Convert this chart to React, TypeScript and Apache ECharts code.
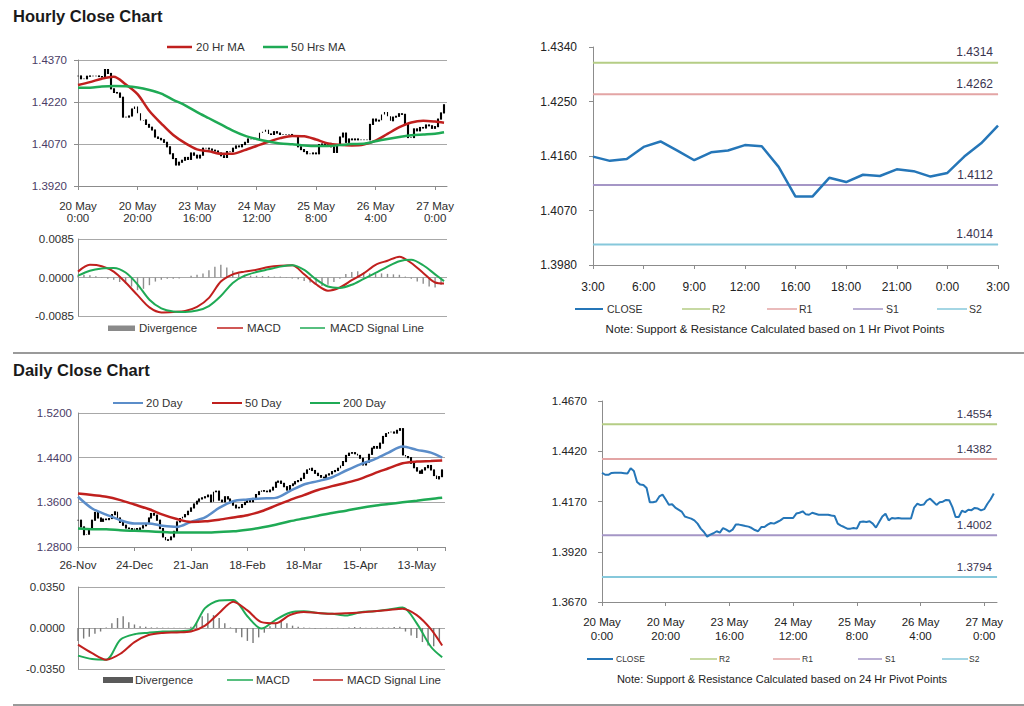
import React, { useEffect, useRef } from "react";
import * as echarts from "echarts";

// ---------- Hourly data (20 May 0:00 -> 27 May 3:00) ----------
const hourlyTicks = ["20 May\n0:00", "20 May\n20:00", "23 May\n16:00", "24 May\n12:00", "25 May\n8:00", "26 May\n4:00", "27 May\n0:00"];
const hourlyClose = [
  1.4313, 1.4303, 1.4303, 1.4312, 1.4313, 1.4313, 1.4313, 1.4311, 1.4309, 1.4336,
  1.4322, 1.4267, 1.4254, 1.4252, 1.4237, 1.4166, 1.4166, 1.4170, 1.4195, 1.4204,
  1.4180, 1.4154, 1.4156, 1.4140, 1.4130, 1.4120, 1.4095, 1.4090, 1.4085, 1.4076,
  1.4060, 1.4035, 1.4018, 1.3995, 1.4005, 1.4012, 1.4022, 1.4015, 1.4038, 1.4030,
  1.4020, 1.4030, 1.4055, 1.4055, 1.4052, 1.4048, 1.4045, 1.4038, 1.4028, 1.4022,
  1.4043, 1.4043, 1.4055, 1.4063, 1.4060, 1.4068, 1.4076, 1.4088, 1.4088, 1.4088,
  1.4088, 1.4110, 1.4114, 1.4121, 1.4106, 1.4104, 1.4114, 1.4109, 1.4104, 1.4104,
  1.4104, 1.4104, 1.4100, 1.4098, 1.4060, 1.4050, 1.4043, 1.4035, 1.4035, 1.4038,
  1.4035, 1.4068, 1.4070, 1.4068, 1.4072, 1.4060, 1.4040, 1.4068, 1.4095, 1.4109,
  1.4076, 1.4088, 1.4085, 1.4088, 1.4085, 1.4085, 1.4085, 1.4085, 1.4140,
  1.4159, 1.4152, 1.4155, 1.4175, 1.4184, 1.4169, 1.4153, 1.4166, 1.4169, 1.4178,
  1.4176, 1.4142, 1.4093, 1.4093, 1.4124, 1.4117, 1.4129, 1.4127, 1.4138, 1.4135,
  1.4126, 1.4132, 1.4159, 1.4181, 1.4210,
];
const hourlyIdx4 = [0, 4, 8, 12, 16, 20, 24, 28, 32, 36, 40, 44, 48, 52, 56, 60, 64, 68, 72, 76, 80, 84, 88, 92, 96, 100, 104, 108, 112, 116, 120, 123];
const ma20Hr = [1.4281, 1.4291, 1.4303, 1.4310, 1.4283, 1.4248, 1.4188, 1.4143, 1.4102, 1.4073, 1.4051, 1.4044, 1.4035, 1.4035, 1.4048, 1.4063, 1.4078, 1.4091, 1.4099, 1.4098, 1.4086, 1.4072, 1.4067, 1.4065, 1.4068, 1.4082, 1.4106, 1.4130, 1.4147, 1.4153, 1.4150, 1.4146];
const ma50Hr = [1.4271, 1.4271, 1.4275, 1.4277, 1.4276, 1.4272, 1.4263, 1.4250, 1.4228, 1.4208, 1.4184, 1.4162, 1.4140, 1.4118, 1.4100, 1.4088, 1.4079, 1.4072, 1.4069, 1.4065, 1.4063, 1.4063, 1.4066, 1.4070, 1.4071, 1.4080, 1.4088, 1.4095, 1.4101, 1.4104, 1.4107, 1.4112];
const macdHourly = [0.0013, 0.0028, 0.0025, 0.0013, -0.0011, -0.0039, -0.0066, -0.0077, -0.0076, -0.0074, -0.0065, -0.0045, -0.0009, 0.0007, 0.0013, 0.0017, 0.0023, 0.0026, 0.0027, 0.0007, -0.0015, -0.0029, -0.0022, -0.0006, 0.0009, 0.0028, 0.0037, 0.0046, 0.0032, 0.0010, -0.0011, -0.0013];
const signalHourly = [0.0004, 0.0015, 0.0020, 0.0021, 0.0011, -0.0015, -0.0049, -0.0068, -0.0075, -0.0076, -0.0073, -0.0063, -0.0041, -0.0012, 0.0004, 0.0012, 0.0018, 0.0024, 0.0027, 0.0017, -0.0004, -0.0020, -0.0023, -0.0016, -0.0003, 0.0010, 0.0024, 0.0036, 0.0039, 0.0027, 0.0007, -0.0008];
const divHourly = [
  0.0005, 0.0006, 0.0005, 0.0003, 0.0001, -0.0003, -0.0005, -0.0010, -0.0013, -0.0020,
  -0.0028, -0.0025, -0.0017, -0.0009, -0.0005, -0.0003, -0.0003, -0.0002, 0.0000, 0.0004,
  0.0006, 0.0009, 0.0016, 0.0024, 0.0028, 0.0022, 0.0015, 0.0009, 0.0006, 0.0004,
  0.0004, 0.0003, 0.0003, 0.0002, 0.0002, 0.0001, -0.0002, -0.0004, -0.0008, -0.0011,
  -0.0016, -0.0019, -0.0016, -0.0010, -0.0003, 0.0008, 0.0012, 0.0014, 0.0011, 0.0009,
  0.0008, 0.0009, 0.0008, 0.0007, 0.0006, 0.0002, -0.0003, -0.0009, -0.0014, -0.0020,
  -0.0022, -0.0016,
];
const hourlyIdx2 = Array.from({ length: divHourly.length }, (_, k) => k * 2);

// ---------- Pivot charts ----------
const pivotTicks1h = ["3:00", "6:00", "9:00", "12:00", "16:00", "18:00", "21:00", "0:00", "3:00"];
const pivotStart1h = 99; // 26 May 3:00 within hourlyClose
const levelNames = ["R2", "R1", "S1", "S2"];
const levels1h = [1.4314, 1.4262, 1.4112, 1.4014];
const levels24h = [1.4554, 1.4382, 1.4002, 1.3794];
const levelColors = ["#b5cd85", "#e3a5a5", "#a596c6", "#86c8db"];

// ---------- Daily data ----------
const dailyTicks = ["26-Nov", "24-Dec", "21-Jan", "18-Feb", "18-Mar", "15-Apr", "13-May"];
const dailyClose = [
  1.328, 1.316, 1.302, 1.303, 1.313, 1.328, 1.342, 1.332, 1.326, 1.330,
  1.329, 1.331, 1.338, 1.343, 1.332, 1.324, 1.319, 1.314, 1.313, 1.311,
  1.313, 1.311, 1.314, 1.318, 1.322, 1.332, 1.340, 1.337, 1.328, 1.313,
  1.298, 1.292, 1.293, 1.298, 1.308, 1.325, 1.331, 1.334, 1.338, 1.344,
  1.350, 1.357, 1.362, 1.366, 1.368, 1.370, 1.373, 1.361, 1.379, 1.380,
  1.364, 1.361, 1.370, 1.366, 1.361, 1.355, 1.350, 1.351, 1.356, 1.360,
  1.364, 1.361, 1.367, 1.374, 1.379, 1.381, 1.380, 1.379, 1.382, 1.387,
  1.396, 1.398, 1.394, 1.388, 1.382, 1.390, 1.393, 1.397, 1.399, 1.403,
  1.412, 1.418, 1.421, 1.417, 1.412, 1.408, 1.405, 1.404, 1.409, 1.411,
  1.415, 1.417, 1.421, 1.426, 1.433, 1.444, 1.448, 1.449, 1.447, 1.444,
  1.439, 1.427, 1.432, 1.446, 1.457, 1.460, 1.457, 1.466, 1.478, 1.483,
  1.486, 1.486, 1.484, 1.489, 1.492, 1.445, 1.442, 1.440, 1.430, 1.422,
  1.416, 1.412, 1.418, 1.422, 1.426, 1.418, 1.408, 1.402, 1.406, 1.418,
];
const dailyIdx5 = [0, 5, 10, 15, 20, 25, 30, 35, 40, 45, 50, 55, 60, 65, 70, 75, 80, 85, 90, 95, 100, 105, 110, 115, 120, 125, 129];
const ma20Day = [1.370, 1.349, 1.338, 1.328, 1.322, 1.322, 1.318, 1.316, 1.325, 1.333, 1.350, 1.362, 1.365, 1.367, 1.368, 1.380, 1.392, 1.398, 1.405, 1.417, 1.428, 1.437, 1.449, 1.460, 1.454, 1.449, 1.440];
const ma50Day = [1.376, 1.373, 1.370, 1.364, 1.356, 1.348, 1.338, 1.330, 1.325, 1.326, 1.329, 1.333, 1.337, 1.344, 1.354, 1.364, 1.373, 1.382, 1.389, 1.395, 1.402, 1.412, 1.421, 1.430, 1.433, 1.434, 1.435];
const ma200Day = [1.313, 1.312, 1.312, 1.310, 1.309, 1.308, 1.307, 1.306, 1.306, 1.306, 1.307, 1.308, 1.311, 1.315, 1.320, 1.326, 1.331, 1.336, 1.341, 1.345, 1.350, 1.354, 1.357, 1.360, 1.363, 1.366, 1.368];
const macdDaily = [-0.0236, -0.0265, -0.0270, -0.0100, -0.0053, -0.0040, -0.0030, -0.0028, -0.0016, 0.0170, 0.0235, 0.0240, 0.0100, -0.0005, 0.0070, 0.0130, 0.0142, 0.0128, 0.0121, 0.0106, 0.0134, 0.0143, 0.0158, 0.0175, 0.0040, -0.0160, -0.0250];
const signalDaily = [-0.0142, -0.0215, -0.0270, -0.0220, -0.0120, -0.0060, -0.0042, -0.0038, -0.0030, 0.0020, 0.0128, 0.0225, 0.0150, 0.0050, 0.0040, 0.0110, 0.0137, 0.0128, 0.0122, 0.0126, 0.0133, 0.0142, 0.0154, 0.0165, 0.0110, -0.0010, -0.0150];
const divDaily = [
  -0.0110, -0.0090, -0.0075, -0.0050, -0.0030, 0.0005, 0.0040, 0.0085, 0.0100, 0.0050,
  0.0030, 0.0015, 0.0010, 0.0005, 0.0005, 0.0003, 0.0002, 0.0002, 0.0001, 0.0003,
  0.0010, 0.0045, 0.0100, 0.0125, 0.0110, 0.0085, 0.0040, 0.0005, -0.0040, -0.0080,
  -0.0110, -0.0128, -0.0080, -0.0040, 0.0015, 0.0045, 0.0060, 0.0040, 0.0020, 0.0010,
  0.0004, 0.0002, -0.0005, -0.0003, 0.0002, -0.0004, 0.0002, -0.0003, 0.0005, 0.0008,
  0.0006, 0.0003, 0.0002, 0.0004, 0.0005, 0.0003, 0.0008, 0.0010, -0.0030, -0.0065,
  -0.0085, -0.0120, -0.0150, -0.0155, -0.0110,
];
const dailyIdx2 = Array.from({ length: divDaily.length }, (_, k) => k * 2);

// ---------- styling ----------
const FONT = "'Liberation Sans', Arial, Helvetica, sans-serif";
const AXIS = "#8c8c8c";
const GRID = "#a8a8a8";
const RED = "#c0201e";
const GREEN = "#1faa55";
const BLUE = "#5b8dc9";
const CLOSE_BLUE = "#2576b8";
const LBL_L = "#4a3c66";
const LBL = "#2e2e2e";

const pairs = (idx: number[], vals: number[]) => vals.map((v, i) => [idx[i], v]);
const ohlc = (closes: number[]) =>
  closes.map((c, i) => {
    const o = i === 0 ? c : closes[i - 1];
    return [i, o, c, Math.min(o, c), Math.max(o, c)];
  });

function buildOption(): any {
  const xCfg = (grid: number, max: number, interval: number, ticks: string[] | null, extra: any = {}) => ({
    type: "value",
    gridIndex: grid,
    min: 0,
    max,
    interval,
    show: ticks !== null,
    axisLine: { show: true, lineStyle: { color: AXIS, width: 1 } },
    axisTick: { show: true, length: 4, lineStyle: { color: AXIS } },
    splitLine: { show: false },
    axisLabel: {
      fontFamily: FONT,
      fontSize: 11.5,
      color: LBL,
      margin: 13,
      lineHeight: 12,
      formatter: (v: number) => (ticks ? ticks[Math.round(v / interval)] ?? "" : ""),
      ...(extra.axisLabel || {}),
    },
  });
  const yCfg = (grid: number, min: number, max: number, interval: number, extra: any = {}) => ({
    type: "value",
    gridIndex: grid,
    min,
    max,
    interval,
    axisLine: { show: true, lineStyle: { color: AXIS, width: 1 } },
    axisTick: { show: extra.tick ?? false, length: 4, lineStyle: { color: AXIS } },
    splitLine: { show: extra.split ?? true, lineStyle: { color: GRID, width: 1 } },
    axisLabel: {
      fontFamily: FONT,
      fontSize: extra.fontSize ?? 11.5,
      color: extra.color ?? LBL_L,
      margin: extra.margin ?? 8,
      formatter: (v: number) => v.toFixed(4),
    },
  });

  const grids = [
    { left: 78, top: 60, width: 369, height: 126 },
    { left: 78, top: 239, width: 369, height: 77 },
    { left: 593, top: 47, width: 405, height: 218 },
    { left: 78, top: 413, width: 367, height: 134 },
    { left: 78, top: 587, width: 367, height: 82 },
    { left: 602, top: 401, width: 395, height: 201 },
  ].map((g) => ({ ...g, containLabel: false, outerBoundsMode: "none" }));

  const xAxis = [
    xCfg(0, 124, 20, hourlyTicks, { axisLabel: { margin: 14, lineHeight: 12 } }),
    xCfg(1, 124, 20, null),
    xCfg(2, 24, 3, pivotTicks1h, { axisLabel: { fontSize: 12, margin: 15, lineHeight: 14, color: "#222" } }),
    xCfg(3, 130, 20, dailyTicks, { axisLabel: { margin: 12 } }),
    xCfg(4, 130, 20, null),
    xCfg(5, 124, 20, hourlyTicks, { axisLabel: { margin: 13, lineHeight: 14, color: "#222" } }),
  ];
  const yAxis = [
    yCfg(0, 1.392, 1.437, 0.015, { tick: true, margin: 11 }),
    yCfg(1, -0.0085, 0.0085, 0.0085, { margin: 4, color: LBL }),
    yCfg(2, 1.398, 1.434, 0.009, { tick: true, split: false, margin: 16, fontSize: 12, color: "#222" }),
    yCfg(3, 1.28, 1.52, 0.08, { margin: 6 }),
    yCfg(4, -0.035, 0.035, 0.035, { margin: 13, color: LBL }),
    yCfg(5, 1.367, 1.467, 0.025, { tick: true, split: false, margin: 15, color: "#222" }),
  ];

  const line = (name: string, xi: number, data: any[], color: string, width = 2.5, smooth: any = 0.3, z = 3) => ({
    name,
    type: "line",
    xAxisIndex: xi,
    yAxisIndex: xi,
    data,
    showSymbol: false,
    symbol: "none",
    smooth,
    z,
    lineStyle: { color, width },
    itemStyle: { color },
    silent: true,
  });
  const candle = (name: string, xi: number, closes: number[]) => ({
    name,
    type: "candlestick",
    xAxisIndex: xi,
    yAxisIndex: xi,
    data: ohlc(closes),
    encode: { x: 0, y: [1, 2, 3, 4] },
    barWidth: 1.4,
    itemStyle: { color: "#000", color0: "#000", borderColor: "#000", borderColor0: "#000", borderWidth: 1.1 },
    silent: true,
    z: 2,
  });
  const bars = (name: string, xi: number, data: any[], color: string) => ({
    name,
    type: "bar",
    xAxisIndex: xi,
    yAxisIndex: xi,
    data,
    barWidth: 1.4,
    itemStyle: { color },
    silent: true,
    z: 2,
  });
  const levelSeries = (xi: number, vals: number[], xmax: number, fontSize: number) =>
    vals.map((v, k) => ({
      name: levelNames[k],
      type: "line",
      xAxisIndex: xi,
      yAxisIndex: xi,
      data: [
        [0, v],
        {
          value: [xmax, v],
          label: {
            show: true,
            position: "top",
            align: "right",
            distance: 4,
            offset: [-5, 0],
            formatter: v.toFixed(4),
            color: "#3a3450",
            fontFamily: FONT,
            fontSize,
          },
        },
      ],
      showSymbol: true,
      symbol: "circle",
      symbolSize: 0.5,
      itemStyle: { color: levelColors[k] },
      lineStyle: { color: levelColors[k], width: 2 },
      silent: true,
      z: 2,
    }));

  const pivotClose = hourlyClose.slice(pivotStart1h).map((v, i) => [i, v]);

  const series: any[] = [
    candle("Hourly", 0, hourlyClose),
    line("20 Hr MA", 0, pairs(hourlyIdx4, ma20Hr), RED),
    line("50 Hrs MA", 0, pairs(hourlyIdx4, ma50Hr), GREEN),
    bars("Divergence", 1, pairs(hourlyIdx2, divHourly), "#8e8e8e"),
    line("MACD", 1, pairs(hourlyIdx4, macdHourly), RED, 2),
    line("MACD Signal Line", 1, pairs(hourlyIdx4, signalHourly), GREEN, 2),
    ...levelSeries(2, levels1h, 24, 12),
    line("CLOSE", 2, pivotClose, CLOSE_BLUE, 2.5, false, 4),
    candle("Daily", 3, dailyClose),
    line("20 Day", 3, pairs(dailyIdx5, ma20Day), BLUE),
    line("50 Day", 3, pairs(dailyIdx5, ma50Day), RED),
    line("200 Day", 3, pairs(dailyIdx5, ma200Day), GREEN),
    bars("Divergence ", 4, pairs(dailyIdx2, divDaily), "#7a7a7a"),
    line("MACD ", 4, pairs(dailyIdx5, macdDaily), GREEN, 2),
    line("MACD Signal Line ", 4, pairs(dailyIdx5, signalDaily), RED, 2),
    ...levelSeries(5, levels24h, 124, 11.5),
    line("CLOSE ", 5, hourlyClose.map((v, i) => [i, v]), CLOSE_BLUE, 2, false, 4),
  ];

  const txt = (text: string, x: number, y: number, size: number, extra: any = {}) => ({
    type: "text",
    x,
    y,
    silent: true,
    style: {
      text,
      fill: extra.fill ?? "#333",
      font: `${extra.weight ?? "normal"} ${size}px ${FONT}`,
      align: extra.align ?? "left",
      verticalAlign: "middle",
    },
  });
  const seg = (x1: number, x2: number, y: number, color: string, w = 2) => ({
    type: "line",
    silent: true,
    shape: { x1, y1: y, x2, y2: y },
    style: { stroke: color, lineWidth: w },
  });
  const box = (x: number, y: number, w: number, h: number, color: string) => ({
    type: "rect",
    silent: true,
    shape: { x, y, width: w, height: h },
    style: { fill: color },
  });

  const graphics: any[] = [
    txt("Hourly Close Chart", 13, 16, 16.5, { weight: "bold", fill: "#1a1a1a" }),
    txt("Daily Close Chart", 13, 370, 16.5, { weight: "bold", fill: "#1a1a1a" }),
    seg(13, 1024, 353, "#9a9a9a", 2),
    seg(13, 1024, 705, "#9a9a9a", 2),
    // hourly price legend
    seg(167, 192, 47, RED, 2.5), txt("20 Hr MA", 196, 47, 11.5),
    seg(263, 288, 47, GREEN, 2.5), txt("50 Hrs MA", 291, 47, 11.5),
    // hourly MACD legend
    box(108, 325.5, 27, 5.5, "#8a8a8a"), txt("Divergence", 139, 328, 11.5),
    seg(217, 243, 328, RED, 1.5), txt("MACD", 247, 328, 11.5),
    seg(300, 325, 328, GREEN, 1.5), txt("MACD Signal Line", 330, 328, 11.5),
    // 1h pivot legend
    seg(575, 603, 309, CLOSE_BLUE, 2), txt("CLOSE", 607, 309, 10.5),
    seg(682, 710, 309, levelColors[0], 1.5), txt("R2", 712, 309, 10.5),
    seg(767, 797, 309, levelColors[1], 1.5), txt("R1", 799, 309, 10.5),
    seg(853, 883, 309, levelColors[2], 1.5), txt("S1", 886, 309, 10.5),
    seg(937, 967, 309, levelColors[3], 1.5), txt("S2", 969, 309, 10.5),
    txt("Note: Support & Resistance Calculated based on 1 Hr Pivot Points", 775, 329, 11.5, { align: "center", fill: "#222" }),
    // daily price legend
    seg(113, 143, 403, BLUE, 2), txt("20 Day", 146, 403, 11.5),
    seg(212, 242, 403, RED, 2), txt("50 Day", 245, 403, 11.5),
    seg(310, 340, 403, GREEN, 2), txt("200 Day", 343, 403, 11.5),
    // daily MACD legend
    box(103, 677, 30, 6, "#5a5a5a"), txt("Divergence", 135, 680, 11.5),
    seg(227, 253, 680, GREEN, 1.5), txt("MACD", 256, 680, 11.5),
    seg(313, 343, 680, RED, 1.5), txt("MACD Signal Line", 347, 680, 11.5),
    // 24h pivot legend
    seg(587, 613, 659, CLOSE_BLUE, 2), txt("CLOSE", 616, 659, 8.5),
    seg(690, 717, 659, levelColors[0], 1.5), txt("R2", 719, 659, 8.5),
    seg(773, 800, 659, levelColors[1], 1.5), txt("R1", 802, 659, 8.5),
    seg(858, 882, 659, levelColors[2], 1.5), txt("S1", 885, 659, 8.5),
    seg(942, 968, 659, levelColors[3], 1.5), txt("S2", 969, 659, 8.5),
    txt("Note: Support & Resistance Calculated based on 24 Hr Pivot Points", 782, 679, 11, { align: "center", fill: "#222" }),
  ];

  return {
    animation: false,
    backgroundColor: "#ffffff",
    textStyle: { fontFamily: FONT },
    grid: grids,
    xAxis,
    yAxis,
    series,
    graphic: { elements: graphics },
  };
}

export default function App() {
  const ref = useRef<HTMLDivElement>(null);
  useEffect(() => {
    if (!ref.current) return;
    const chart = echarts.init(ref.current, null, { renderer: "svg" });
    chart.setOption(buildOption());
    return () => chart.dispose();
  }, []);
  return (
    <div
      ref={ref}
      style={{ position: "absolute", left: 0, top: 0, width: 1024, height: 706, background: "#fff" }}
    />
  );
}
